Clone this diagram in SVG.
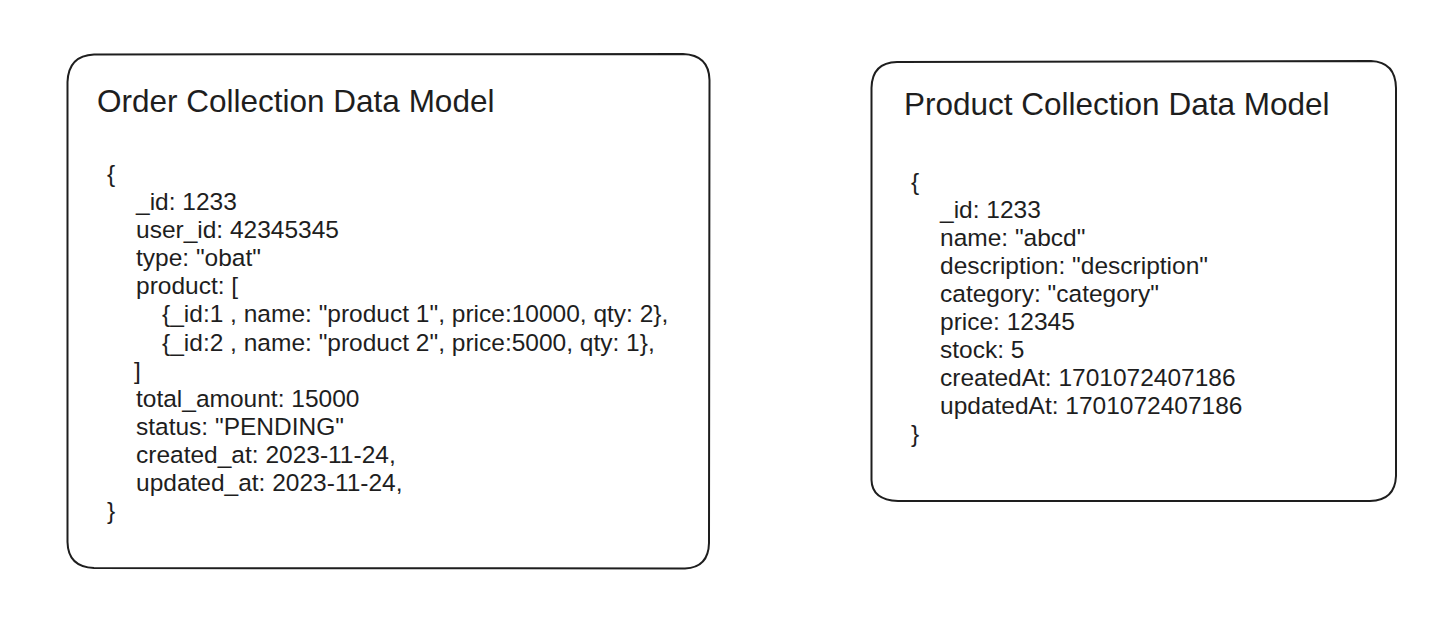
<svg xmlns="http://www.w3.org/2000/svg" width="1452" height="617" viewBox="0 0 1452 617">
<style>
.box{fill:#ffffff;stroke:#1e1e1e;stroke-width:2;stroke-linecap:round;stroke-linejoin:round}
.title{font-family:"Liberation Sans",Arial,Helvetica,sans-serif;font-size:31.5px;fill:#1e1e1e}
.body{font-family:"Liberation Sans",Arial,Helvetica,sans-serif;font-size:24.5px;fill:#1e1e1e}
</style>
<rect width="1452" height="617" fill="#ffffff"/>
<g id="order-model">
<path class="box" d="M94,54.5 Q380,53.5 683,54 Q709,55 709.5,80 Q709,320 709,543 Q708.5,567.5 685,568.5 Q380,569 94,568 Q68,567 67.5,542 Q67,300 67.5,82 Q68.5,55.5 94,54.5 Z"/>
<text class="title" x="97" y="112">Order Collection Data Model</text>
<text class="body" x="107" y="182">{</text>
<text class="body" x="136" y="210">_id: 1233</text>
<text class="body" x="136" y="238">user_id: 42345345</text>
<text class="body" x="136" y="266">type: "obat"</text>
<text class="body" x="136" y="294">product: [</text>
<text class="body" x="162" y="322">{_id:1 , name: "product 1", price:10000, qty: 2},</text>
<text class="body" x="162" y="350.5">{_id:2 , name: "product 2", price:5000, qty: 1},</text>
<text class="body" x="134" y="378.5">]</text>
<text class="body" x="136" y="406.5">total_amount: 15000</text>
<text class="body" x="136" y="434.5">status: "PENDING"</text>
<text class="body" x="136" y="462.5">created_at: 2023-11-24,</text>
<text class="body" x="136" y="490.5">updated_at: 2023-11-24,</text>
<text class="body" x="107" y="518.5">}</text>
</g>
<g id="product-model">
<path class="box" d="M897,62 Q1130,60.5 1371,61 Q1395.5,62 1396,88 Q1396.5,290 1396,476 Q1395,500.5 1370,501 Q1130,501.5 898,501 Q872,500 871.5,480 Q871,280 871.5,88 Q872,62.5 897,62 Z"/>
<text class="title" x="904" y="115">Product Collection Data Model</text>
<text class="body" x="911" y="190">{</text>
<text class="body" x="940" y="218">_id: 1233</text>
<text class="body" x="940" y="246">name: "abcd"</text>
<text class="body" x="940" y="274">description: "description"</text>
<text class="body" x="940" y="302">category: "category"</text>
<text class="body" x="940" y="330">price: 12345</text>
<text class="body" x="940" y="358">stock: 5</text>
<text class="body" x="940" y="385.5">createdAt: 1701072407186</text>
<text class="body" x="940" y="413.5">updatedAt: 1701072407186</text>
<text class="body" x="911" y="441.5">}</text>
</g>
<g id="connectors"></g>
</svg>
